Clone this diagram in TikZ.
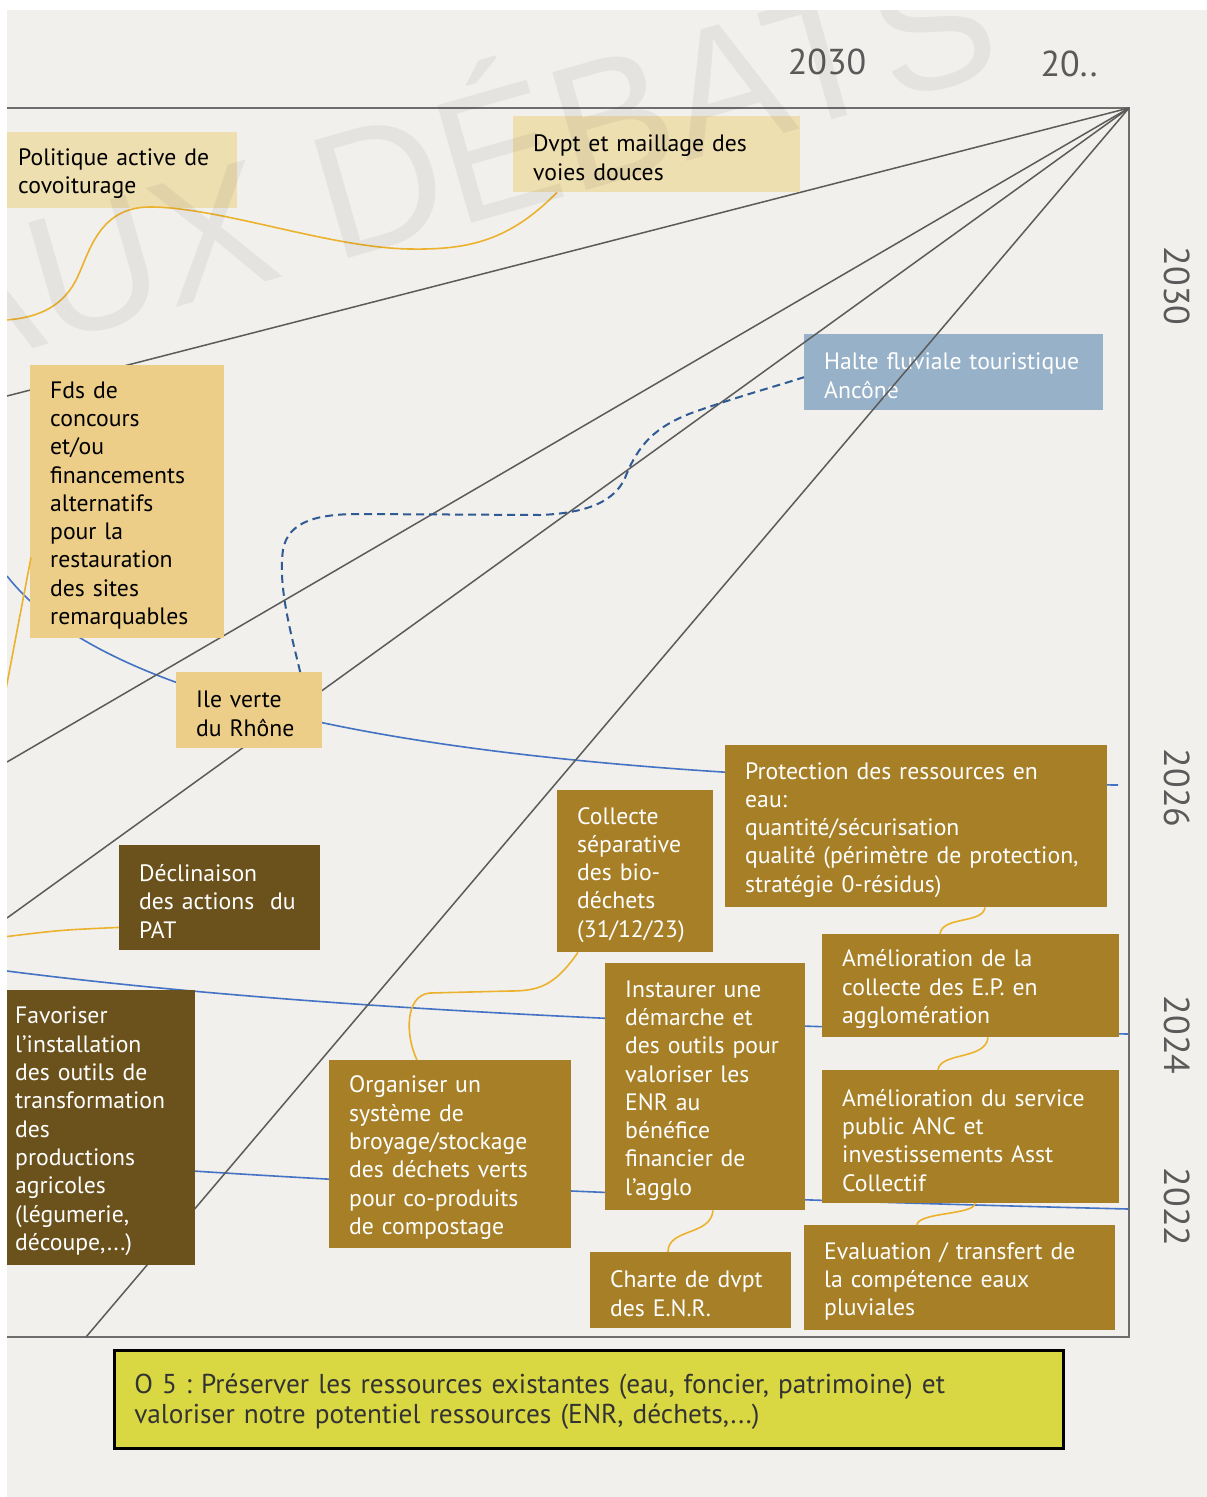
\documentclass[tikz,border=0pt]{standalone}
\usepackage{fontspec}
\setmainfont{PT Sans}
\newfontfamily\wmfont{Liberation Sans}
\frenchspacing

\definecolor{bgcol}{HTML}{F1F0EC}
\definecolor{paleyel}{HTML}{EEDFB0}
\definecolor{sandyel}{HTML}{ECCE88}
\definecolor{skyblue}{HTML}{97B1C8}
\definecolor{darkbrown}{HTML}{6B521C}
\definecolor{ochrecol}{HTML}{A67F27}
\definecolor{objyel}{HTML}{D9D843}
\definecolor{raygrey}{HTML}{5B5B5B}
\definecolor{framegrey}{HTML}{6E6E6E}
\definecolor{isoblue}{HTML}{4472C4}
\definecolor{dashblue}{HTML}{2F5A93}
\definecolor{linkyel}{HTML}{ECB22E}
\definecolor{yeargrey}{HTML}{5A5A5A}
\definecolor{objtext}{HTML}{333333}

\begin{document}
\begin{tikzpicture}[x=1pt,y=-1pt,
    box/.style={anchor=north west, inner xsep=20pt, inner ysep=0pt, align=left,
      font=\fontsize{23.7}{28.3}\selectfont, execute at begin node={\rule{0pt}{24pt}}},
    pale/.style={box, fill=paleyel, text=black},
    sand/.style={box, fill=sandyel, text=black},
    dark/.style={box, fill=darkbrown, text=white},
    ochre/.style={box, fill=ochrecol, text=white},
    ray/.style={draw=raygrey, line width=1.5pt},
    iso/.style={draw=isoblue, line width=1.6pt},
    link/.style={draw=linkyel, line width=1.6pt},
    year/.style={text=yeargrey, inner sep=0pt, font=\fontsize{36}{40}\selectfont}]
  \useasboundingbox (0,0) rectangle (1207,1497);
  \fill[white] (0,0) rectangle (1207,1497);
  \fill[bgcol] (7,10) rectangle (1207,1497);
  \begin{scope}
    \clip (7,10) rectangle (1207,1497);
    \coordinate (apex) at (1129,108);
    \draw[framegrey, line width=2pt] (7,108) -- (apex) -- (1129,1337) -- (7,1337);

    % year curves
    \coordinate (i1) at (7,576);
    \coordinate (i2) at (7,971);
    \coordinate (i3) at (7,1158);
    \draw[iso] (i1) .. controls (120,720) and (500,780) .. (1118,785);
    \draw[iso] (i2) .. controls (250,1002) and (600,1025) .. (1128,1034);
    \draw[iso] (i3) .. controls (300,1180) and (600,1196) .. (1128,1209);

    \node[box, fill=skyblue, text=white, text width=259pt, minimum height=76pt] (halte) at (804,334) {Halte fluviale touristique\\Ancône};

    % rays
    \coordinate (e1) at (7,396);
    \coordinate (e2) at (7,762);
    \coordinate (e3) at (7,918);
    \coordinate (e4) at (86,1337);
    \foreach \e in {e1,e2,e3,e4}
      \draw[ray] (apex) -- (\e);

    \node[pale, text width=199pt, minimum height=76pt] (pol) at (-2,132) {Politique active de\\covoiturage};
    \node[pale, text width=247pt, minimum height=76pt] (dvpt) at (513,116) {Dvpt et maillage des\\voies douces};
    \node[sand, text width=154pt, minimum height=273pt] (fds) at (30,365) {Fds de\\concours\\et/ou\\financements\\alternatifs\\pour la\\restauration\\des sites\\remarquables};
    \node[sand, text width=106pt, minimum height=76pt] (ile) at (176,672) {Ile verte\\du Rhône};

    % links
    \coordinate (y1) at (5,320);
    \coordinate (y2) at (-2,731);
    \coordinate (y3) at (-5,938);
    \draw[link] (dvpt.south west) ++(44,0) .. controls (510,240) and (470,250) .. (410,249)
      .. controls (330,248) and (220,207) .. (150,207)
      .. controls (100,207) and (90,250) .. (78,276)
      .. controls (65,305) and (40,318) .. (y1);
    \draw[link] (fds.south west) ++(1,-81) -- (y2);
    \draw[dashblue, line width=2pt, dash pattern=on 8pt off 5pt]
      (ile.north) ++(51,0) .. controls (290,630) and (278,585) .. (283,550)
      .. controls (288,520) and (320,514) .. (360,514) -- (540,515)
      .. controls (590,513) and (615,500) .. (625,478)
      .. controls (638,445) and (655,425) .. (700,410)
      .. controls (740,396) and (780,385) .. ([yshift=-5pt]halte.west);

    \node[dark, text width=161pt, minimum height=105pt] (decl) at (119,845) {Déclinaison\\des actions\ \ du\\PAT};
    \node[ochre, text width=116pt, minimum height=162pt] (coll) at (557,790) {Collecte\\séparative\\des bio-\\déchets\\(31/12/23)};
    \node[ochre, text width=342pt, minimum height=162pt] (prot) at (725,745) {Protection des ressources en\\eau:\\quantité/sécurisation\\qualité (périmètre de protection,\\stratégie 0-résidus)};
    \node[ochre, text width=257pt, minimum height=103pt] (ep) at (822,934) {Amélioration de la\\collecte des E.P. en\\agglomération};
    \node[dark, text width=160pt, minimum height=275pt] (favo) at (-5,990) {Favoriser\\l’installation\\des outils de\\transformation\\des\\productions\\agricoles\\(légumerie,\\découpe,...)};
    \node[ochre, text width=202pt, minimum height=188pt] (orga) at (329,1060) {Organiser un\\système de\\broyage/stockage\\des déchets verts\\pour co-produits\\de compostage};
    \node[ochre, text width=160pt, minimum height=247pt] (inst) at (605,963) {Instaurer une\\démarche et\\des outils pour\\valoriser les\\ENR au\\bénéfice\\financier de\\l’agglo};
    \node[ochre, text width=257pt, minimum height=133pt] (anc) at (822,1070) {Amélioration du service\\public ANC et\\investissements Asst\\Collectif};
    \node[ochre, text width=161pt, minimum height=76pt] (charte) at (590,1252) {Charte de dvpt\\des E.N.R.};
    \node[ochre, text width=271pt, minimum height=105pt] (eval) at (804,1225) {Evaluation / transfert de\\la compétence eaux\\pluviales};

    \draw[link] (decl.south west) ++(0,-23) .. controls (60,930) .. (y3);
    \draw[link] (coll.south west) ++(21,0) .. controls (555,985) and (540,991) .. (510,991)
      -- (430,993) .. controls (405,995) and (405,1035) .. ([xshift=88pt]orga.north west);
    \draw[link] (prot.south west) ++(260,0) .. controls (983,924) and (942,916) .. ([xshift=118pt]ep.north west);
    \draw[link] (ep.south west) ++(166,0) .. controls (986,1060) and (940,1052) .. ([xshift=116pt]anc.north west);
    \draw[link] (anc.south west) ++(153,0) .. controls (974,1215) and (918,1212) .. ([xshift=113pt]eval.north west);
    \draw[link] (inst.south west) ++(108,0) .. controls (711,1236) and (668,1228) .. ([xshift=78pt]charte.north west);

    \node[box, fill=objyel, draw=black, line width=2.5pt, text=objtext, text width=909pt, minimum height=98pt,
      font=\fontsize{27.3}{30}\selectfont] (obj) at (113,1349) {O 5 : Préserver les ressources existantes (eau, foncier, patrimoine) et\\valoriser notre potentiel ressources (ENR, déchets,...)};

    \node[year] (t30) at (827,62) {2030};
    \node[year] (tnext) at (1069,64) {20..};
    \node[year, rotate=-90] (r30) at (1177,286) {2030};
    \node[year, rotate=-90] (r26) at (1177,788) {2026};
    \node[year, rotate=-90] (r24) at (1177,1035) {2024};
    \node[year, rotate=-90] (r22) at (1177,1207) {2022};

    \node[anchor=base west, rotate=16, inner sep=0pt, text=black, text opacity=0.05,
      font=\wmfont\fontsize{178}{178}\selectfont] (wm) at (-65,377) {AUX DÉBATS};
  \end{scope}
\end{tikzpicture}
\end{document}
